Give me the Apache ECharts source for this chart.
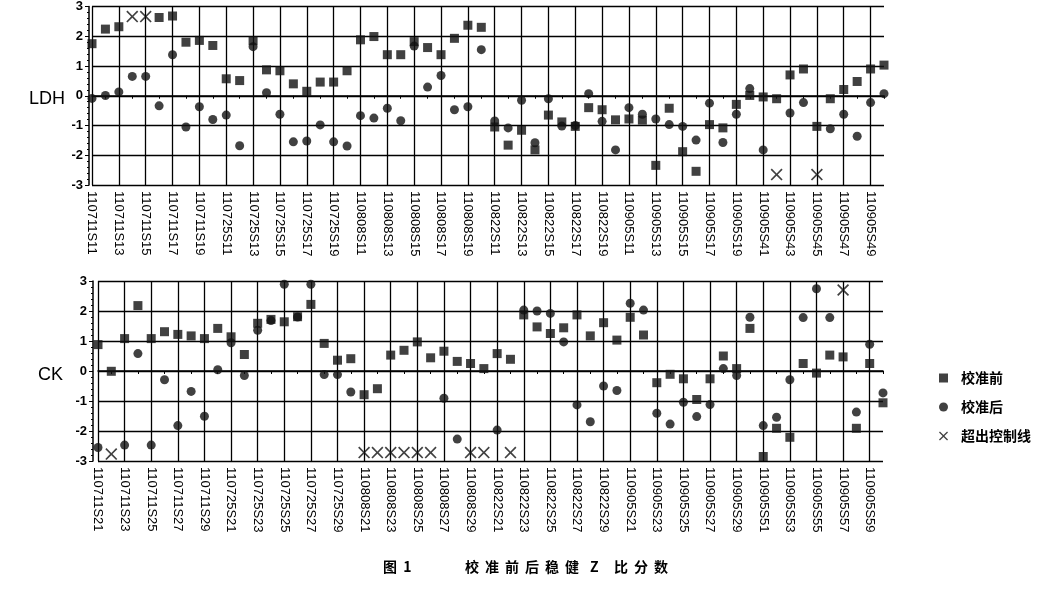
<!DOCTYPE html>
<html><head><meta charset="utf-8">
<script src="https://cdn.jsdelivr.net/npm/echarts@6/dist/echarts.min.js"></script>
<style>html,body{margin:0;padding:0;background:#fff}#c{width:1062px;height:590px}</style>
</head><body><div id="c"></div>
<script>
const ldhCategories = [
'110711S11','110711S12','110711S13','110711S14','110711S15','110711S16','110711S17','110711S18','110711S19','110711S20',
'110725S11','110725S12','110725S13','110725S14','110725S15','110725S16','110725S17','110725S18','110725S19','110725S20',
'110808S11','110808S12','110808S13','110808S14','110808S15','110808S16','110808S17','110808S18','110808S19','110808S20',
'110822S11','110822S12','110822S13','110822S14','110822S15','110822S16','110822S17','110822S18','110822S19','110822S20',
'110905S11','110905S12','110905S13','110905S14','110905S15','110905S16','110905S17','110905S18','110905S19','110905S20',
'110905S41','110905S42','110905S43','110905S44','110905S45','110905S46','110905S47','110905S48','110905S49','110905S50'];
const ckCategories = [
'110711S21','110711S22','110711S23','110711S24','110711S25','110711S26','110711S27','110711S28','110711S29','110711S30',
'110725S21','110725S22','110725S23','110725S24','110725S25','110725S26','110725S27','110725S28','110725S29','110725S30',
'110808S21','110808S22','110808S23','110808S24','110808S25','110808S26','110808S27','110808S28','110808S29','110808S30',
'110822S21','110822S22','110822S23','110822S24','110822S25','110822S26','110822S27','110822S28','110822S29','110822S30',
'110905S21','110905S22','110905S23','110905S24','110905S25','110905S26','110905S27','110905S28','110905S29','110905S30',
'110905S51','110905S52','110905S53','110905S54','110905S55','110905S56','110905S57','110905S58','110905S59','110905S60'];

const ldhBefore = [1.75,2.24,2.32,null,null,2.63,2.68,1.80,1.86,1.69,
0.57,0.51,1.85,0.87,0.84,0.40,0.15,0.46,0.46,0.84,
1.88,1.99,1.38,1.38,1.82,1.62,1.38,1.93,2.37,2.30,
-1.05,-1.66,-1.16,-1.82,-0.65,-0.88,-1.03,-0.40,-0.47,-0.81,
-0.78,-0.82,-2.34,-0.42,-1.88,-2.54,-0.97,-1.08,-0.29,0.01,
-0.04,-0.10,0.70,0.90,-1.03,-0.10,0.21,0.48,0.90,1.03];
const ldhAfter = [-0.09,0.01,0.13,0.65,0.65,-0.34,1.38,-1.05,-0.37,-0.80,
-0.65,-1.68,1.65,0.10,-0.62,-1.55,-1.52,-0.98,-1.55,-1.69,
-0.67,-0.75,-0.42,-0.84,1.67,0.29,0.68,-0.47,-0.37,1.55,
-0.85,-1.08,-0.15,-1.58,-0.10,-1.02,-1.00,0.07,-0.86,-1.82,
-0.40,-0.62,-0.78,-0.97,-1.03,-1.49,-0.25,-1.57,-0.62,0.24,
-1.82,null,-0.58,-0.23,null,-1.11,-0.62,-1.36,-0.23,0.07];
const ldhOut = [null,null,null,2.66,2.66,null,null,null,null,null,
null,null,null,null,null,null,null,null,null,null,
null,null,null,null,null,null,null,null,null,null,
null,null,null,null,null,null,null,null,null,null,
null,null,null,null,null,null,null,null,null,null,
null,-2.65,null,null,-2.65,null,null,null,null,null];

const ckBefore = [0.88,-0.01,1.08,2.18,1.08,1.31,1.22,1.17,1.08,1.42,
1.14,0.55,1.59,1.72,1.64,1.81,2.22,0.92,0.36,0.41,
-0.79,-0.59,0.53,0.69,0.97,0.44,0.66,0.32,0.25,0.08,
0.58,0.39,1.87,1.47,1.25,1.44,1.87,1.17,1.61,1.03,
1.79,1.20,-0.39,-0.11,-0.26,-0.95,-0.26,0.50,0.08,1.42,
-2.85,-1.91,-2.21,0.25,-0.07,0.53,0.47,-1.91,0.25,-1.06];
const ckAfter = [-2.55,null,-2.47,0.58,-2.47,-0.29,-1.82,-0.68,-1.51,0.04,
0.94,-0.15,1.36,1.68,2.89,1.80,2.89,-0.12,-0.12,-0.70,
null,null,null,null,null,null,-0.91,-2.27,null,null,
-1.97,null,2.03,2.00,1.92,0.97,-1.13,-1.69,-0.50,-0.65,
2.26,2.03,-1.41,-1.77,-1.04,-1.52,-1.12,0.08,-0.15,1.79,
-1.82,-1.54,-0.29,1.78,2.74,1.78,null,-1.37,0.89,-0.73];
const ckOut = [null,-2.77,null,null,null,null,null,null,null,null,
null,null,null,null,null,null,null,null,null,null,
-2.72,-2.72,-2.72,-2.72,-2.72,-2.72,null,null,-2.72,-2.72,
null,-2.72,null,null,null,null,null,null,null,null,
null,null,null,null,null,null,null,null,null,null,
null,null,null,null,null,null,2.70,null,null,null];

const yTicks = [-3,-2,-1,0,1,2,3];
const legendNames = ['校准前','校准后','超出控制线'];
const captionLabel = '图  1';
const captionWords = ['校','准','前','后','稳','健','Z','比','分','数'];

const xPath = 'path://M1,0L5,4L9,0L10,1L6,5L10,9L9,10L5,6L1,10L0,9L4,5L0,1Z';
const INK = '#000';

function xAxisCfg(idx, cats){
  return {
    type:'category', gridIndex: idx, data: cats, boundaryGap:false,
    axisLine:{show:true, lineStyle:{color:INK, width:1.5}},
    axisTick:{show:true, interval:0, length:3, lineStyle:{color:INK}},
    axisLabel:{interval:1, rotate:-90, margin:6, color:INK, fontSize:13,
      fontFamily:'Liberation Sans, Arial, sans-serif'},
    splitLine:{show:true, interval:function(i){return i%2===0;}, lineStyle:{color:INK, width:1.3}}
  };
}
function yAxisCfg(idx, off){
  return {
    type:'value', gridIndex: idx, min:yTicks[0], max:yTicks[yTicks.length-1], interval:1, offset:off,
    axisLine:{show:true, onZero:false, lineStyle:{color:INK, width:1.5}},
    axisTick:{show:true, length:4, lineStyle:{color:INK}},
    minorTick:{show:true, splitNumber:5, length:2, lineStyle:{color:INK}},
    axisLabel:{color:INK, fontSize:13, fontWeight:'bold', margin:6, fontFamily:'Liberation Sans, Arial, sans-serif'},
    splitLine:{show:true, lineStyle:{color:INK, width:1.3}}
  };
}
function seriesFor(idx, before, after, out){
  return [
    {name:legendNames[0], type:'scatter', xAxisIndex:idx, yAxisIndex:idx, data:before,
     symbol:'rect', symbolSize:9, itemStyle:{color:'#111'}, z:3},
    {name:legendNames[1], type:'scatter', xAxisIndex:idx, yAxisIndex:idx, data:after,
     symbol:'circle', symbolSize:9, itemStyle:{color:'#111'}, z:2},
    {name:legendNames[2], type:'scatter', xAxisIndex:idx, yAxisIndex:idx, data:out,
     symbol:xPath, symbolSize:12, itemStyle:{color:'#111'}, z:2}
  ];
}

const captionGraphics = [
  {type:'text', left:383, top:560, style:{text:captionLabel, fontSize:14, fontWeight:'bold', fill:INK, fontFamily:'Noto Sans CJK SC, sans-serif'}}
];
const captionX = [465,485,505,525,545,565,590,614,634,654];
captionWords.forEach(function(ch, k){
  captionGraphics.push({type:'text', left:captionX[k], top:560,
    style:{text:ch, fontSize:14, fontWeight:'bold', fill:INK, fontFamily:'Noto Sans CJK SC, sans-serif'}});
});

const chart = echarts.init(document.getElementById('c'), null, {renderer:'canvas'});
chart.setOption({
  animation:false,
  backgroundColor:'#fff',
  grid:[
    {left:92, top:4, width:792, height:181, containLabel:false},
    {left:98, top:281, width:785, height:180, containLabel:false}
  ],
  xAxis:[xAxisCfg(0, ldhCategories), xAxisCfg(1, ckCategories)],
  yAxis:[yAxisCfg(0, 3), yAxisCfg(1, 5)],
  legend:{
    orient:'vertical', left:934, top:366, itemWidth:9, itemHeight:9, itemGap:15,
    inactiveColor:'#000',
    textStyle:{color:INK, fontSize:14, fontWeight:'bold', fontFamily:'Noto Sans CJK SC, sans-serif', padding:[0,0,0,8]},
    data:[{name:legendNames[0], icon:'rect'},{name:legendNames[1], icon:'circle'},{name:legendNames[2], icon:xPath}]
  },
  graphic:[
    {type:'text', left:29, top:90, style:{text:'LDH', fontSize:18, fill:INK, fontFamily:'Liberation Sans, Arial, sans-serif'}},
    {type:'text', left:38, top:366, style:{text:'CK', fontSize:18, fill:INK, fontFamily:'Liberation Sans, Arial, sans-serif'}}
  ].concat(captionGraphics),
  series:[].concat(seriesFor(0, ldhBefore, ldhAfter, ldhOut), seriesFor(1, ckBefore, ckAfter, ckOut))
});
</script></body></html>
